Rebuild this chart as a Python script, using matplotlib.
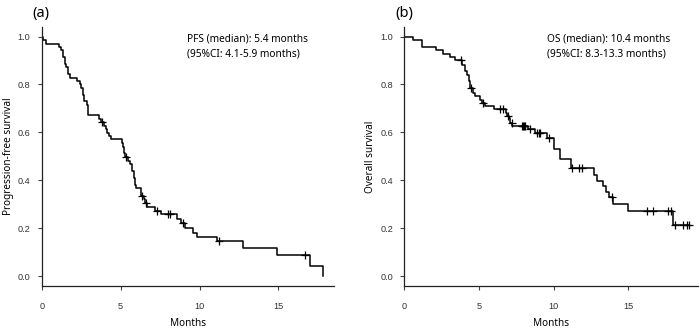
import numpy as np
import matplotlib
matplotlib.use("Agg")
import matplotlib.pyplot as plt

# ---- data ----
pfs_times = [0.1, 0.3, 1.12, 1.25, 1.35, 1.45, 1.55, 1.65, 1.8, 2.26, 2.4, 2.5, 2.6, 2.7,
             2.85, 2.92, 3.66, 3.75, 3.95, 4.05, 4.15, 4.25, 4.4, 5.07, 5.15, 5.2, 5.3,
             5.45, 5.6, 5.75, 5.82, 5.9, 5.97, 6.28, 6.32, 6.5, 6.55, 6.65, 7.2, 7.54,
             8.6, 8.83, 9.08, 9.57, 9.82, 11.09, 12.78, 14.89, 17.0, 17.85]
pfs_surv = [0.986, 0.971, 0.957, 0.943, 0.914, 0.886, 0.871, 0.843, 0.829, 0.814, 0.800,
            0.786, 0.757, 0.729, 0.714, 0.671, 0.657, 0.643, 0.628, 0.613, 0.598, 0.583,
            0.571, 0.556, 0.541, 0.512, 0.497, 0.482, 0.467, 0.438, 0.409, 0.380, 0.366,
            0.350, 0.335, 0.320, 0.305, 0.288, 0.273, 0.258, 0.238, 0.222, 0.202, 0.182,
            0.162, 0.146, 0.116, 0.087, 0.043, 0.0]
pfs_censor = [3.85, 5.35, 6.34, 6.61, 7.29, 8.02, 8.13, 8.97, 11.26, 16.69]

os_times = [0.58, 1.18, 2.14, 2.58, 3.05, 3.38, 3.9, 4.05, 4.2, 4.34, 4.43, 4.6, 4.72,
            5.07, 5.2, 5.4, 6.0, 6.8, 6.9, 7.0, 7.1, 7.25, 8.3, 8.76, 9.57, 10.01, 10.4,
            11.15, 12.7, 12.88, 13.29, 13.5, 13.73, 13.95, 14.95, 18.0]
os_surv = [0.987, 0.957, 0.943, 0.929, 0.915, 0.902, 0.883, 0.855, 0.840, 0.814, 0.786,
           0.765, 0.751, 0.737, 0.723, 0.709, 0.699, 0.681, 0.670, 0.660, 0.639, 0.625,
           0.613, 0.596, 0.575, 0.529, 0.488, 0.450, 0.422, 0.398, 0.376, 0.352, 0.331,
           0.300, 0.272, 0.213]
os_censor = [3.78, 4.48, 5.3, 6.4, 6.6, 6.95, 7.2, 7.87, 7.95, 8.02, 8.09, 8.44, 8.9,
             9.0, 9.1, 9.7, 11.2, 11.7, 11.9, 13.88, 16.22, 16.67, 17.67, 17.85, 18.1,
             18.67, 18.9, 19.03]

x_ticks = [0, 5, 10, 15]
y_ticks = [0.0, 0.2, 0.4, 0.6, 0.8, 1.0]

panels = [
    dict(tag="(a)", times=pfs_times, surv=pfs_surv, cens=pfs_censor,
         ylabel="Progression-free survival", xmax=18.52,
         text="PFS (median): 5.4 months\n(95%CI: 4.1-5.9 months)", tx=9.2),
    dict(tag="(b)", times=os_times, surv=os_surv, cens=os_censor,
         ylabel="Overall survival", xmax=19.63,
         text="OS (median): 10.4 months\n(95%CI: 8.3-13.3 months)", tx=9.54),
]

fig = plt.figure(figsize=(7.0, 3.33), dpi=100)
lefts = [41.7 / 700, 404 / 700]
widths = [(334 - 41.7) / 700, (697.7 - 404) / 700]
bottom = 1 - 285.7 / 333
height = (285.7 - 27) / 333

FONT = ["Noto Sans", "DejaVu Sans"]
TICKFONT = ["Liberation Sans", "DejaVu Sans"]

for i, p in enumerate(panels):
    ax = fig.add_axes([lefts[i], bottom, widths[i], height])
    t = np.array(p["times"])
    s = np.array(p["surv"])
    xs = np.concatenate([[0.0], t])
    ys = np.concatenate([[1.0], s])
    cens = np.array(p["cens"])
    end_t = max(xs[-1], cens.max() if len(cens) else 0)
    if end_t > xs[-1]:
        xs = np.append(xs, end_t)
        ys = np.append(ys, ys[-1])
    ax.step(xs, ys, where="post", color="black", lw=1.1)
    # censor marks at the step-function value
    idx = np.searchsorted(np.concatenate([[0.0], t]), cens, side="right") - 1
    cy = np.concatenate([[1.0], s])[idx]
    ax.plot(cens, cy, ls="none", marker="+", ms=6, mew=0.9, color="black")

    ax.set_xlim(0, p["xmax"])
    ax.set_ylim(-0.04, 1.04)
    ax.set_xticks(x_ticks)
    ax.set_xticklabels([str(v) for v in x_ticks])
    ax.set_yticks(y_ticks)
    ax.set_yticklabels([f"{v:.1f}" for v in y_ticks])
    for sp in ["top", "right"]:
        ax.spines[sp].set_visible(False)
    for sp in ["left", "bottom"]:
        ax.spines[sp].set_linewidth(0.9)
        ax.spines[sp].set_color("#222222")
    ax.tick_params(axis="x", direction="out", length=3, width=0.8, pad=9,
                   labelsize=6.6, labelcolor="#333333", color="#444444")
    ax.tick_params(axis="y", direction="out", length=3, width=0.8, pad=5,
                   labelsize=6.6, labelcolor="#333333", color="#444444")
    for lab in ax.get_xticklabels() + ax.get_yticklabels():
        lab.set_family(TICKFONT)
    ax.set_xlabel("Months", fontsize=7.2, family=FONT, labelpad=5)
    ax.set_ylabel(p["ylabel"], fontsize=7.2, family=FONT, labelpad=3)
    ax.text(p["tx"], 0.96, p["text"], fontsize=7.3, family=FONT, va="center",
            ha="left", linespacing=1.5)

fig.text(32 / 700, 1 - 13 / 333, "(a)", fontsize=10.5, family=FONT, va="center", ha="left")
fig.text(395.5 / 700, 1 - 13 / 333, "(b)", fontsize=10.5, family=FONT, va="center", ha="left")

fig.savefig("out.png", dpi=100)
